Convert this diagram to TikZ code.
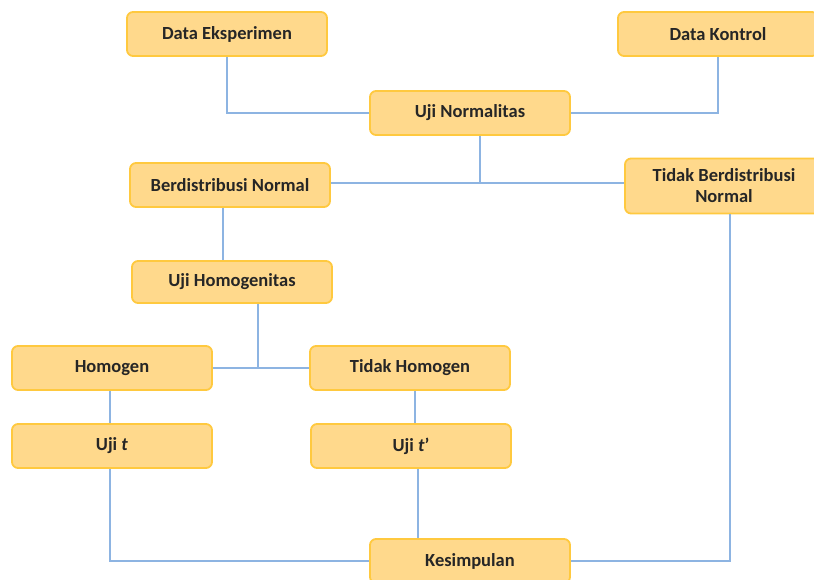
\documentclass[tikz,border=0pt]{standalone}
\usepackage{fontspec}
\setmainfont{Carlito}
\definecolor{boxfill}{HTML}{FFD98C}
\definecolor{boxline}{HTML}{FFC93F}
\definecolor{conn}{HTML}{8DB4E2}
\begin{document}
\begin{tikzpicture}[x=1pt,y=-1pt,
  box/.style={draw=boxline, fill=boxfill, line width=1.8pt, rounded corners=6pt,
    minimum width=200pt, minimum height=44pt, align=center, inner sep=2pt,
    font=\fontsize{18.5}{21}\selectfont\bfseries, text=black!85},
  link/.style={draw=conn, line width=1.6pt}]
\useasboundingbox (0,0) rectangle (814,580);
\node[box] (de) at (227,34) {Data Eksperimen};
\node[box] (dk) at (718,34) {Data Kontrol};
\node[box] (un) at (470,113) {Uji Normalitas};
\node[box] (bn) at (230,185) {Berdistribusi Normal};
\node[box, minimum width=198pt, minimum height=55pt] (tbn) at (724,186) {Tidak Berdistribusi\\Normal};
\node[box, minimum height=42pt] (uh) at (232,282) {Uji Homogenitas};
\node[box] (ho) at (112,368) {Homogen};
\node[box] (th) at (410,368) {Tidak Homogen};
\node[box] (ut) at (112,446) {Uji \textit{t}};
\node[box] (ut2) at (411,446) {Uji \textit{t}’};
\node[box] (ks) at (470,561) {Kesimpulan};
\coordinate (j1) at (480,183);
\coordinate (j2) at (258,368);
\draw[link] (de.south) |- (un.west);
\draw[link] (dk.south) |- (un.east);
\draw[link] (bn.east |- j1) -- (tbn.west |- j1);
\draw[link] (un.south -| j1) -- (j1);
\draw[link] (bn.south -| 223,0) -- (uh.north -| 223,0);
\draw[link] (ho.east) -- (th.west);
\draw[link] (uh.south -| j2) -- (j2);
\draw[link] (ho.south -| 110,0) -- (ut.north -| 110,0);
\draw[link] (th.south -| 415,0) -- (ut2.north -| 415,0);
\draw[link] (ut.south -| 110,0) |- (ks.west);
\draw[link] (ut2.south -| 418,0) -- (ks.north -| 418,0);
\draw[link] (tbn.south -| 730,0) |- (ks.east);
\end{tikzpicture}
\end{document}
